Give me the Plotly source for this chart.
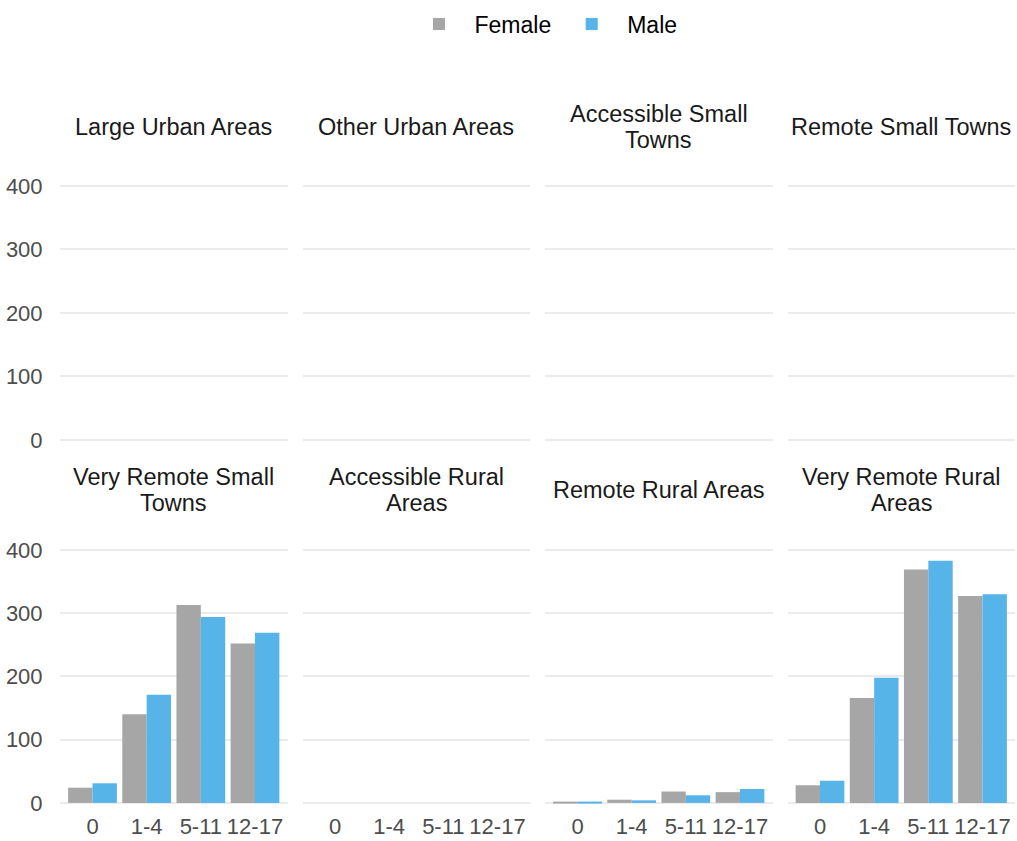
import plotly.graph_objects as go
from plotly.subplots import make_subplots

age_groups = ["0", "1-4", "5-11", "12-17"]
areas = ["Large Urban Areas", "Other Urban Areas", "Accessible Small Towns", "Remote Small Towns",
         "Very Remote Small Towns", "Accessible Rural Areas", "Remote Rural Areas", "Very Remote Rural Areas"]
# strip labels, wrapped like the original facet strips
area_lines = [["Large Urban Areas"], ["Other Urban Areas"], ["Accessible Small", "Towns"],
              ["Remote Small Towns"], ["Very Remote Small", "Towns"], ["Accessible Rural", "Areas"],
              ["Remote Rural Areas"], ["Very Remote Rural", "Areas"]]

female = {
    "Large Urban Areas": [0, 0, 0, 0],
    "Other Urban Areas": [0, 0, 0, 0],
    "Accessible Small Towns": [0, 0, 0, 0],
    "Remote Small Towns": [0, 0, 0, 0],
    "Very Remote Small Towns": [24, 140, 313, 252],
    "Accessible Rural Areas": [0, 0, 0, 0],
    "Remote Rural Areas": [1, 5, 18, 17],
    "Very Remote Rural Areas": [28, 166, 369, 327],
}
male = {
    "Large Urban Areas": [0, 0, 0, 0],
    "Other Urban Areas": [0, 0, 0, 0],
    "Accessible Small Towns": [0, 0, 0, 0],
    "Remote Small Towns": [0, 0, 0, 0],
    "Very Remote Small Towns": [31, 171, 294, 269],
    "Accessible Rural Areas": [0, 0, 0, 0],
    "Remote Rural Areas": [1, 4, 12, 22],
    "Very Remote Rural Areas": [35, 198, 383, 330],
}

FONT = "Liberation Sans, Arial, sans-serif"
W, H = 1017, 841
ML, MR, MT, MB = 60, 2, 0, 26
pw, ph = W - ML - MR, H - MT - MB

fig = make_subplots(rows=2, cols=4, horizontal_spacing=15 / pw, vertical_spacing=0.1)

for i, area in enumerate(areas):
    r, c = i // 4 + 1, i % 4 + 1
    fig.add_trace(go.Bar(x=age_groups, y=female[area], name="Female", marker_color="#a6a6a6",
                         marker_line_width=0, legendgroup="F", showlegend=(i == 0)), row=r, col=c)
    fig.add_trace(go.Bar(x=age_groups, y=male[area], name="Male", marker_color="#56b4e9",
                         marker_line_width=0, legendgroup="M", showlegend=(i == 0)), row=r, col=c)


def py(pix):
    return (H - MB - pix) / ph


top_dom = [py(452), py(184.6)]
bot_dom = [py(815), py(548.6)]

for i in range(8):
    r, c = i // 4 + 1, i % 4 + 1
    fig.update_xaxes(type="category", categoryorder="array", categoryarray=age_groups,
                     range=[-0.6, 3.6], showgrid=False, zeroline=False, showline=False,
                     showticklabels=(r == 2), tickfont=dict(family=FONT, size=22, color="#4d4d4d"),
                     ticks="", ticklabelstandoff=-4, automargin=False, row=r, col=c)
    fig.update_yaxes(range=[-19.15, 402.15], tickvals=[0, 100, 200, 300, 400],
                     showgrid=True, gridcolor="#ebebeb", gridwidth=2, zeroline=False,
                     showticklabels=(c == 1), ticks="outside", ticklen=12,
                     tickcolor="rgba(0,0,0,0)",
                     tickfont=dict(family=FONT, size=22, color="#4d4d4d"),
                     domain=top_dom if r == 1 else bot_dom, automargin=False, row=r, col=c)

# strip titles, one annotation per line to get ggplot's tighter line spacing
for i, lines in enumerate(area_lines):
    r = i // 4 + 1
    idx = i + 1
    xa = fig.layout["xaxis" + ("" if idx == 1 else str(idx))]
    xc = (xa.domain[0] + xa.domain[1]) / 2
    mid = 127 if r == 1 else 490
    offs = [0] if len(lines) == 1 else [-12.5, 12.5]
    for ln, off in zip(lines, offs):
        fig.add_annotation(x=xc, y=py(mid + off), xref="paper", yref="paper",
                           text=ln, showarrow=False, xanchor="center", yanchor="middle",
                           font=dict(family=FONT, size=23.5, color="#1a1a1a"))

fig.update_layout(
    width=W, height=H,
    margin=dict(l=ML, r=MR, t=MT, b=MB),
    barmode="group", bargap=0.1, bargroupgap=0,
    plot_bgcolor="white", paper_bgcolor="white",
    font=dict(family=FONT),
    legend=dict(orientation="h", x=(543 - ML) / pw, xanchor="center", y=py(24), yanchor="middle",
                font=dict(family=FONT, size=23, color="black"), itemwidth=61),
)

fig.write_html("out.html", config={"displayModeBar": False},
               post_script="document.body.style.margin='0';")
